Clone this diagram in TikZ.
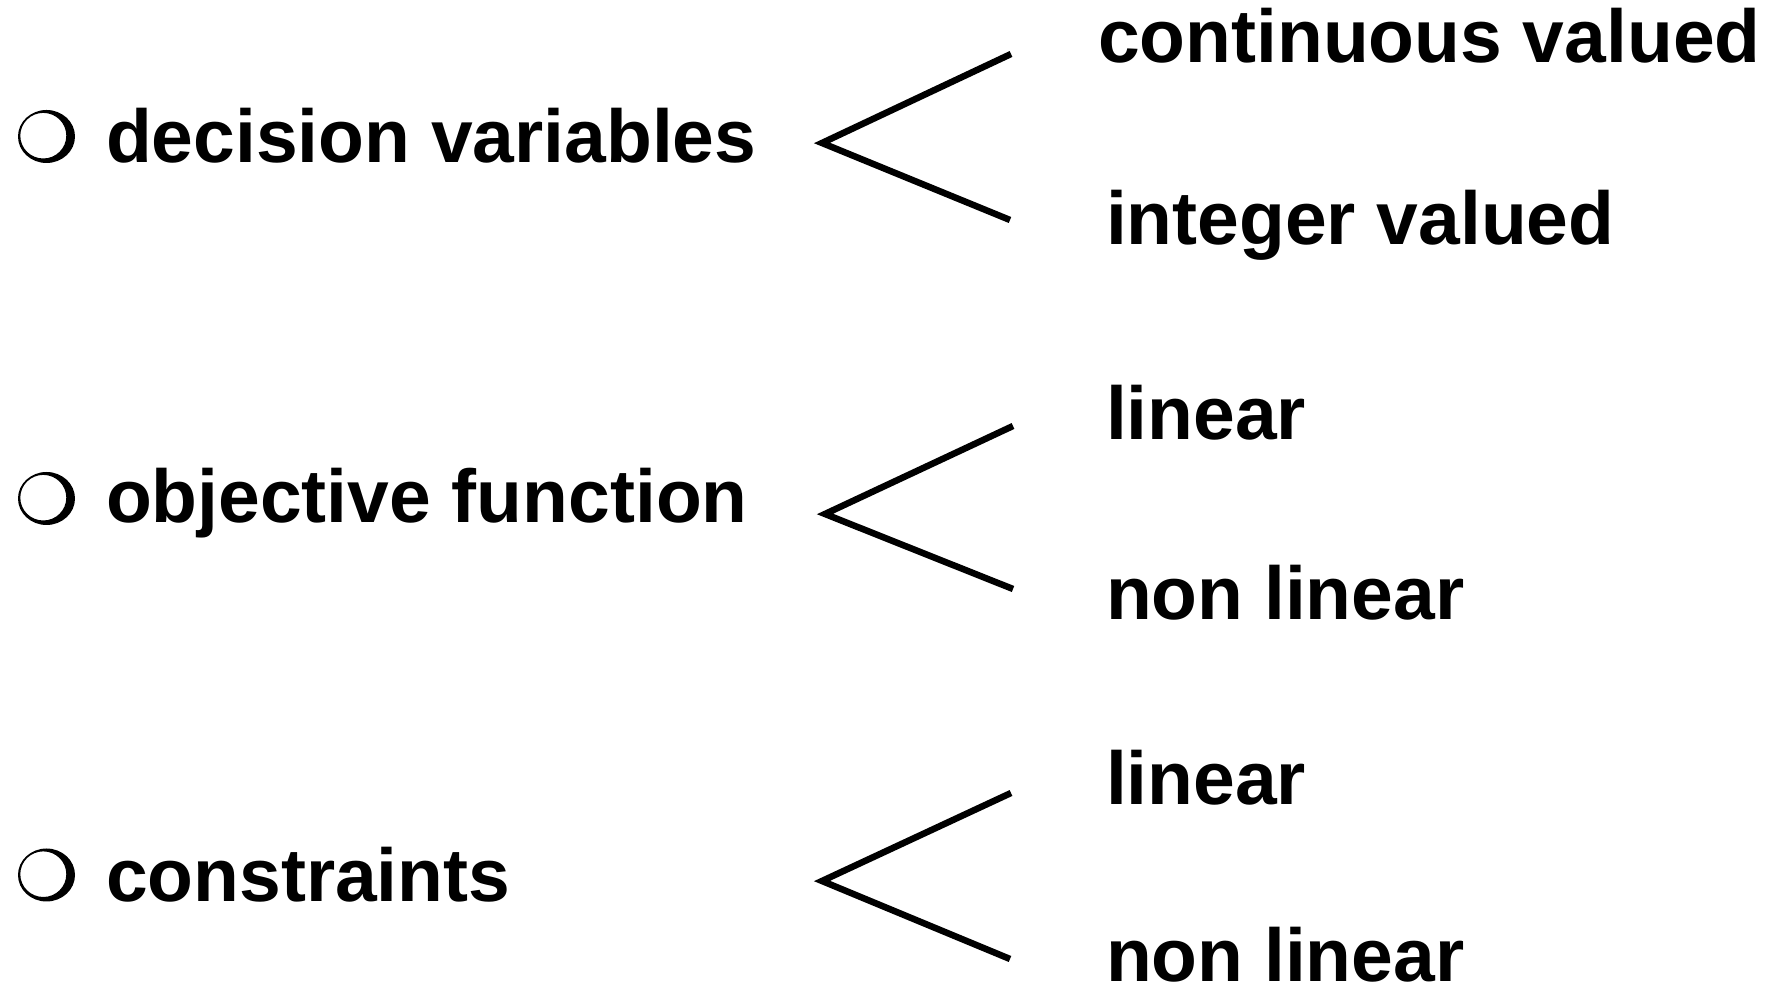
\documentclass[tikz,border=0pt]{standalone}
\usepackage{fontspec}
\setmainfont{Liberation Sans}
\begin{document}
\begin{tikzpicture}[x=1pt,y=1pt,
  label/.style={anchor=base west,inner sep=0pt,outer sep=0pt,
    font=\fontsize{75}{80}\selectfont\bfseries},
  branch/.style={line width=6.5pt,line join=miter},
  ringbullet/.pic={
    \fill[even odd rule] (0,0) ellipse [x radius=28.5, y radius=26.5]
      (-3.2,0.8) ellipse [x radius=23, y radius=22.8];
  }]
\useasboundingbox (0,0) rectangle (1767,987);

% bullets
\pic (bulA) at (46.5,850.5) {ringbullet};
\pic (bulB) at (46.5,488.5) {ringbullet};
\pic (bulC) at (46.5,112)   {ringbullet};

% main items
\node[label] (dv) at (106,824) {decision variables};
\node[label] (of) at (106,464) {objective function};
\node[label] (ct) at (106,85)  {constraints};

% sub-items
\node[label] (cv) at (1098,924) {continuous valued};
\node[label] (iv) at (1106,742) {integer valued};
\node[label] (lA) at (1106,547) {linear};
\node[label] (nA) at (1106,367) {non linear};
\node[label] (lB) at (1106,182) {linear};
\node[label] (nB) at (1106,5)   {non linear};

% branch points
\coordinate (apA) at (822,844);
\coordinate (tpA) at (1011,933);
\coordinate (btA) at (1010,767);
\coordinate (apB) at (825,473);
\coordinate (tpB) at (1013,561);
\coordinate (btB) at (1013,398);
\coordinate (apC) at (822,106);
\coordinate (tpC) at (1011,194);
\coordinate (btC) at (1010,28);

\draw[branch] (tpA) -- (apA) -- (btA);
\draw[branch] (tpB) -- (apB) -- (btB);
\draw[branch] (tpC) -- (apC) -- (btC);
\end{tikzpicture}
\end{document}
